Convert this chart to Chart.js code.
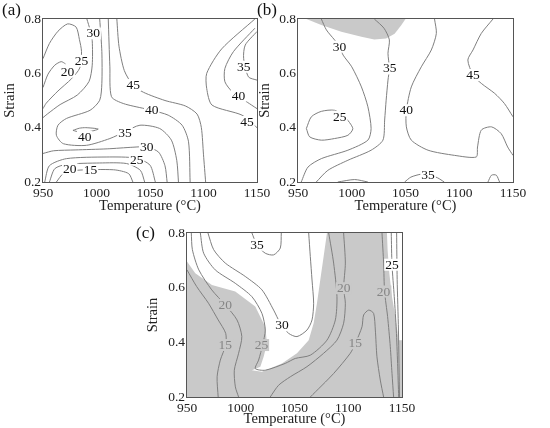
<!DOCTYPE html>
<html>
<head>
<meta charset="utf-8">
<script src="https://cdn.jsdelivr.net/npm/chart.js@4.4.1/dist/chart.umd.min.js"></script>
<style>
  body { margin: 0; background: #fff; }
  #page { position: relative; width: 550px; height: 428px; overflow: hidden; font-family: "Liberation Serif", "Times New Roman", serif; }
  canvas { position: absolute; }
  .tag { position: absolute; font-size: 17px; color: #111; }
</style>
</head>
<body>
<div id="page">
  <canvas id="chartA" width="290" height="215" style="left:0;top:0"></canvas>
  <canvas id="chartB" width="295" height="215" style="left:255px;top:0"></canvas>
  <canvas id="chartC" width="297" height="213" style="left:143px;top:215px"></canvas>
  <div class="tag" style="left:2px;top:0">(a)</div>
  <div class="tag" style="left:257px;top:0">(b)</div>
  <div class="tag" style="left:136px;top:223px">(c)</div>
</div>
<script>
// tick labels
const tempTicks = [950, 1000, 1050, 1100, 1150];
const strainTicks = [0.2, 0.4, 0.6, 0.8];

// contour lines, [temperature, strain] pairs
// (a)
const a20 = [[950,0.548],[954.7,0.597],[961,0.63],[967,0.643],[971,0.635]];
const a25 = [[950,0.654],[956,0.71],[964,0.755],[973,0.782],[981,0.77],[984,0.725],[986,0.68],[984.4,0.62],[976.6,0.58],[964,0.535],[953,0.49],[950,0.47]];
const a30 = [[991,0.80],[994,0.76],[996,0.72],[996,0.63],[993,0.57],[982,0.52],[966,0.485],[954,0.45],[950,0.437]];
const a35 = [[1003,0.80],[1005,0.68],[1005,0.563],[1003,0.501],[994,0.464],[972,0.434],[964,0.409],[962.5,0.372],[969,0.341],[990.6,0.335],[1012.5,0.36],[1026.6,0.385],[1040.6,0.409],[1059,0.397],[1070,0.354],[1075,0.28],[1076.6,0.20]];
const a40 = [[1011,0.80],[1012.5,0.624],[1014,0.514],[1025,0.489],[1045,0.47],[1051.6,0.464],[1067,0.446],[1080,0.409],[1086,0.348],[1087.5,0.20]];
const a45 = [[1019,0.80],[1021,0.70],[1026,0.61],[1034,0.557],[1044,0.53],[1064,0.50],[1083,0.48],[1094,0.45],[1098,0.40],[1100,0.30],[1102,0.20]];
const a40Island = [[978,0.39],[984,0.398],[990,0.40],[1001.6,0.395],[994,0.386],[984,0.384],[978,0.39]];
const a30Low = [[950,0.305],[960,0.315],[980,0.318],[1010,0.322],[1034,0.328],[1047,0.329],[1058,0.31],[1064,0.26],[1066,0.20]];
const a25Low = [[951.6,0.20],[956,0.26],[972,0.286],[1009,0.292],[1037,0.288],[1050,0.262],[1055,0.20]];
const a20Low = [[956,0.20],[961,0.249],[972,0.265],[1003,0.27],[1028,0.268],[1041,0.243],[1045,0.20]];
const a15 = [[962.5,0.20],[969,0.231],[981,0.243],[1016,0.245],[1030,0.231],[1034,0.20]];
const a45Right = [[1148,0.80],[1117,0.69],[1103,0.60],[1103,0.544],[1108,0.483],[1136,0.446],[1150,0.40]];
const a40Right = [[1148,0.766],[1128,0.68],[1120,0.618],[1120,0.569],[1127,0.532],[1145,0.483],[1150,0.47]];
const a35Right = [[1150,0.754],[1139,0.704],[1137.5,0.655],[1142,0.587],[1150,0.575]];
const aLabels = [['30',996.9,0.747],['25',986,0.646],['20',972.8,0.606],['45',1034.4,0.557],['40',1051.6,0.464],
  ['40',989,0.366],['35',1026.6,0.381],['30',1046.9,0.329],['25',1037.5,0.282],['20',975,0.249],['15',994.4,0.243],
  ['35',1137.5,0.624],['40',1132.8,0.517],['45',1140.6,0.421]];

// (b)
const b30 = [[971.7,0.80],[976.4,0.76],[984,0.723],[988.7,0.698],[992,0.667],[1000,0.624],[1009,0.55],[1015,0.477],[1018,0.397],[1015,0.354],[996.4,0.317],[971.7,0.286],[959.3,0.255],[953,0.20]];
const b35 = [[1021,0.80],[1030,0.766],[1035,0.723],[1033.7,0.674],[1035,0.618],[1033.7,0.575],[1032,0.501],[1030.6,0.428],[1029,0.354],[1018,0.317],[996.4,0.28],[977.8,0.243],[967,0.20]];
const b40 = [[1077,0.80],[1078.7,0.747],[1074,0.686],[1064.7,0.624],[1055.4,0.55],[1050.8,0.464],[1050.8,0.403],[1055.4,0.354],[1071,0.317],[1095.7,0.298],[1115.8,0.292],[1117,0.329],[1120.5,0.391],[1130,0.403],[1139,0.378],[1145,0.329],[1150,0.298]];
const b45 = [[1131.4,0.80],[1120.5,0.747],[1112.8,0.686],[1108,0.649],[1112.8,0.594],[1120.5,0.563],[1133,0.526],[1142,0.489],[1150,0.44]];
const b25 = [[957.8,0.397],[962.4,0.44],[971.7,0.46],[984,0.464],[993.4,0.44],[1001,0.397],[996.4,0.372],[984,0.36],[971.7,0.354],[960.9,0.366],[957.8,0.397]];
const b35Low = [[1049.2,0.20],[1055,0.218],[1064.7,0.229],[1071,0.228],[1080,0.215],[1086,0.20]];
const b35Bump = [[987,0.20],[1002.7,0.209],[1015,0.20]];
const bRightBump = [[1126.7,0.20],[1130,0.225],[1134.5,0.225],[1137.5,0.20]];
const bGray = [[957.8,0.80],[971.7,0.778],[990.3,0.753],[1009,0.735],[1021,0.725],[1032,0.728],[1039.9,0.746],[1046,0.777],[1050,0.80]];
const bLabels = [['30',988.7,0.698],['35',1035.3,0.618],['40',1050.8,0.464],['45',1112.8,0.594],['25',988.8,0.44],['35',1071,0.227]];

// (c)
const c15Left = [[950,0.665],[959,0.604],[970,0.543],[979,0.482],[986,0.433],[986,0.39],[981,0.335],[978,0.274],[979,0.20]];
const c20Left = [[954,0.80],[955,0.739],[961,0.665],[973,0.592],[985.6,0.537],[996.5,0.482],[1001,0.421],[998,0.36],[994,0.298],[995,0.237],[998,0.20]];
const c25 = [[962.4,0.80],[965.5,0.726],[976.3,0.665],[994.9,0.616],[1010.4,0.567],[1019.7,0.506],[1022.8,0.445],[1020.3,0.39],[1016.6,0.335],[1013.5,0.304],[1022.8,0.298],[1041.4,0.323],[1050.7,0.341],[1064.7,0.353],[1080.2,0.408],[1088,0.482],[1089.5,0.567],[1086.4,0.69],[1081.8,0.80]];
const c30 = [[969.5,0.80],[974.8,0.739],[985.6,0.69],[1004.2,0.641],[1019.7,0.592],[1030.6,0.518],[1036.8,0.47],[1044.5,0.433],[1052.3,0.421],[1061.6,0.445],[1066.3,0.482],[1067.8,0.543],[1066.3,0.628],[1064.7,0.714],[1063.2,0.80]];
const c35 = [[1010.4,0.80],[1015,0.757],[1022.8,0.726],[1030.6,0.72],[1036.8,0.745],[1037.7,0.80]];
const c20Mid = [[1095.7,0.80],[1097.3,0.69],[1095.7,0.598],[1097.3,0.543],[1095.7,0.47],[1089.5,0.408],[1077.1,0.36],[1061.6,0.311],[1046.1,0.274],[1035.2,0.243],[1027.4,0.20]];
const c15Right = [[1064.7,0.20],[1086.4,0.286],[1101.9,0.36],[1106.6,0.396],[1112.8,0.457],[1114.3,0.5],[1119,0.518],[1123.6,0.506],[1125.2,0.445],[1126.7,0.347],[1129.8,0.262],[1132.9,0.20]];
const c20Right = [[1131.4,0.80],[1132.9,0.69],[1133.8,0.586],[1136.6,0.494],[1139.1,0.384],[1140.7,0.286],[1142.2,0.20]];
const c25Right = [[1140,0.80],[1140.7,0.684],[1142.8,0.567],[1144.7,0.445],[1145.9,0.323],[1146.9,0.20]];
const c30Right = [[1145,0.80],[1145.5,0.63],[1146.7,0.445],[1147.7,0.20]];
const cWhiteMain = [[950,0.80],[950,0.696],[957.7,0.653],[973.2,0.61],[994.9,0.586],[1013.5,0.531],[1022.8,0.457],[1024.4,0.396],[1021.3,0.347],[1018.2,0.311],[1010.4,0.298],[1019.7,0.292],[1038.3,0.323],[1052.3,0.36],[1063.2,0.408],[1067.8,0.47],[1070.9,0.543],[1074,0.629],[1077.1,0.714],[1080.2,0.80]];
const cWhiteRight = [[1136,0.80],[1136.6,0.739],[1138.2,0.653],[1140.7,0.567],[1143.8,0.494],[1146.9,0.408],[1150,0.408],[1150,0.80]];
const cLabels = [['35',1015,0.757],['30',1038.3,0.463],['20',985.6,0.537],['15',985.6,0.39],['25',1019.2,0.39],
  ['20',1095.7,0.598],['15',1106.6,0.396],['20',1132.9,0.586],['25',1140.7,0.684]];

Chart.defaults.font.family = '"Liberation Serif", "Times New Roman", serif';
Chart.defaults.color = '#222';

const GRAY = '#c9c9c9';

// shaded areas drawn under the contour lines
const shading = {
  id: 'shading',
  beforeDatasetsDraw(chart, args, opts) {
    const { ctx, chartArea: a, scales: { x, y } } = chart;
    ctx.save();
    ctx.fillStyle = '#fff';
    ctx.fillRect(a.left, a.top, a.width, a.height);
    ctx.beginPath();
    ctx.rect(a.left, a.top, a.width, a.height);
    ctx.clip();
    if (opts.base) {
      ctx.fillStyle = opts.base;
      ctx.fillRect(a.left, a.top, a.width, a.height);
    }
    (opts.areas || []).forEach(pts => {
      ctx.beginPath();
      pts.forEach(([t, s], i) => {
        const px = x.getPixelForValue(t), py = y.getPixelForValue(s);
        if (i) ctx.lineTo(px, py); else ctx.moveTo(px, py);
      });
      ctx.closePath();
      ctx.fillStyle = opts.color;
      ctx.fill();
    });
    ctx.restore();
  }
};

// contour level labels + plot frame
const levels = {
  id: 'levels',
  afterDatasetsDraw(chart, args, opts) {
    const { ctx, chartArea: a, scales: { x, y } } = chart;
    ctx.save();
    ctx.font = '13.5px "Liberation Serif"';
    ctx.textAlign = 'center';
    ctx.textBaseline = 'middle';
    (opts.labels || []).forEach(([txt, t, s]) => {
      const px = x.getPixelForValue(t), py = y.getPixelForValue(s);
      let best = [255, 255, 255], lum = -1;
      [[-2, -1], [2, 1], [-2, 1], [2, -1], [0, 0]].forEach(([dx, dy]) => {
        const d = ctx.getImageData(Math.round(px + dx), Math.round(py + dy), 1, 1).data;
        const al = d[3] / 255;
        const c = [0, 1, 2].map(k => Math.round(d[k] * al + 255 * (1 - al)));
        const l = c[0] + c[1] + c[2];
        if (l > lum) { lum = l; best = c; }
      });
      const w = ctx.measureText(txt).width + 2;
      ctx.fillStyle = `rgb(${best[0]},${best[1]},${best[2]})`;
      ctx.fillRect(px - w / 2, py - 6, w, 12);
      ctx.fillStyle = lum > 700 ? '#111' : '#858585';
      ctx.fillText(txt, px, py + 0.5);
    });
    ctx.strokeStyle = '#555';
    ctx.lineWidth = 1;
    ctx.strokeRect(Math.round(a.left) - 0.5, Math.round(a.top) - 0.5, Math.round(a.width) + 1, Math.round(a.height) + 1);
    ctx.restore();
  }
};

function makeChart(id, lines, labels, shade, pad, yWidth, xHeight) {
  return new Chart(document.getElementById(id), {
    type: 'scatter',
    data: {
      datasets: lines.map(pts => ({
        data: pts.map(([t, s]) => ({ x: t, y: s })),
        showLine: true,
        pointRadius: 0,
        borderColor: '#7f7f7f',
        borderWidth: 1,
        tension: 0.25,
      })),
    },
    options: {
      responsive: false,
      animation: false,
      events: [],
      layout: { padding: pad },
      plugins: { legend: { display: false }, tooltip: { enabled: false }, shading: shade, levels: { labels } },
      scales: {
        x: {
          type: 'linear', min: 950, max: 1150,
          afterBuildTicks: s => { s.ticks = tempTicks.map(v => ({ value: v })); },
          afterFit: s => { s.height = xHeight; },
          grid: { display: false, drawTicks: false },
          border: { display: false },
          ticks: { font: { size: 13.5 }, padding: 3, color: '#222', maxRotation: 0, callback: v => String(v) },
          title: { display: true, text: 'Temperature (°C)', font: { size: 14.5 }, padding: 0, color: '#222' },
        },
        y: {
          type: 'linear', min: 0.2, max: 0.8,
          afterBuildTicks: s => { s.ticks = strainTicks.map(v => ({ value: v })); },
          afterFit: s => { s.width = yWidth; },
          grid: { display: false, drawTicks: false },
          border: { display: false },
          ticks: { font: { size: 13.5 }, padding: 2, color: '#222', callback: v => v.toFixed(1) },
          title: { display: true, text: 'Strain', font: { size: 14.5 }, padding: { top: 1, bottom: 0 }, color: '#222' },
        },
      },
    },
    plugins: [shading, levels],
  });
}

makeChart('chartA',
  [a20, a25, a30, a35, a40, a45, a40Island, a30Low, a25Low, a20Low, a15, a45Right, a40Right, a35Right],
  aLabels, { areas: [] }, { left: 0, top: 19, right: 33, bottom: 0 }, 43, 33);

makeChart('chartB',
  [b30, b35, b40, b45, b25, b35Low, b35Bump, bRightBump],
  bLabels, { areas: [bGray], color: GRAY }, { left: 0, top: 19, right: 37, bottom: 0 }, 43, 33);

makeChart('chartC',
  [c15Left, c20Left, c25, c30, c35, c20Mid, c15Right, c20Right, c25Right, c30Right],
  cLabels, { base: GRAY, areas: [cWhiteMain, cWhiteRight], color: '#ffffff' }, { left: 0, top: 18, right: 38, bottom: 0 }, 44, 31);
</script>
</body>
</html>
